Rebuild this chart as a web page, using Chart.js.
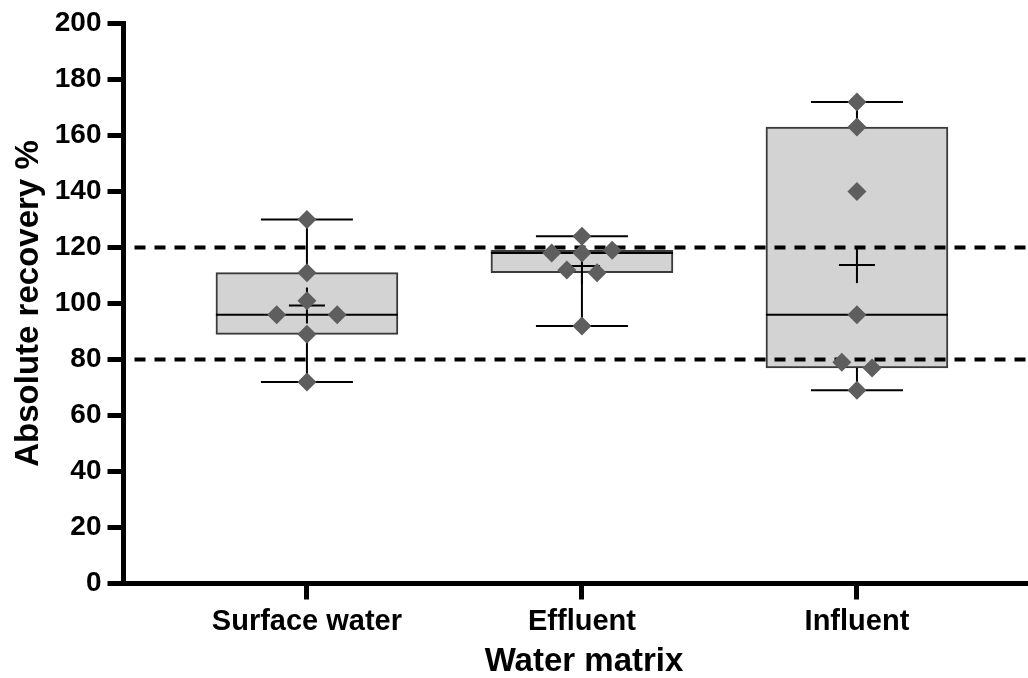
<!DOCTYPE html>
<html>
<head>
<meta charset="utf-8">
<title>Absolute recovery by water matrix</title>
<script src="https://cdn.jsdelivr.net/npm/chart.js@4.4.1/dist/chart.umd.min.js"></script>
<style>
  html, body { margin: 0; padding: 0; background: #fff; }
  #wrap { width: 1028px; height: 678px; position: relative; }
</style>
</head>
<body>
<div id="wrap"><canvas id="recoveryChart"></canvas></div>
<script>
  // values (absolute recovery %, n = 7 per matrix)
  const matrices = ["Surface water", "Effluent", "Influent"];
  const surfaceWater = [130, 111, 101, 96, 96, 89, 72];
  const effluent = [124, 119, 118, 118, 112, 111, 92];
  const influent = [172, 163, 140, 96, 79, 77, 69];
  const acceptLimits = [80, 120];
  const yTicks = { min: 0, max: 200, step: 20 };

  const groups = [surfaceWater, effluent, influent];

  // layout constants
  const BOX_PX = 182;        // box width
  const CAP_PX = 46;         // half width of whisker caps
  const MEAN_PX = 18;        // half size of the mean cross
  const SLOT = 0.055;        // horizontal step of the scatter, in category units
  const NEAR = 5.4;          // values closer than this collide vertically

  // Prism style quantile, position (n + 1) * p
  function quantile(sorted, p) {
    const pos = (sorted.length + 1) * p;
    const lo = Math.max(1, Math.min(sorted.length, Math.floor(pos)));
    const hi = Math.max(1, Math.min(sorted.length, Math.ceil(pos)));
    return sorted[lo - 1] + (pos - Math.floor(pos)) * (sorted[hi - 1] - sorted[lo - 1]);
  }

  function summary(values) {
    const s = values.slice().sort((a, b) => a - b);
    const mean = s.reduce((a, b) => a + b, 0) / s.length;
    return { min: s[0], q1: quantile(s, 0.25), median: quantile(s, 0.5), q3: quantile(s, 0.75), max: s[s.length - 1], mean };
  }

  // column scatter: points that would overlap are pushed sideways, then each cluster is centred
  function spread(values) {
    const order = values.map((_, i) => i).sort((a, b) => values[b] - values[a]);
    const slot = new Array(values.length).fill(0);
    const placed = [];
    const tries = [0, 1, -1, 2, -2, 3, -3, 4, -4, 5, -5];
    order.forEach(i => {
      for (const s of tries) {
        const hit = placed.some(j => Math.abs(values[j] - values[i]) < NEAR && Math.abs(slot[j] - s) < 2);
        if (!hit) { slot[i] = s; break; }
      }
      placed.push(i);
    });
    let cluster = [];
    const flush = () => {
      if (!cluster.length) return;
      const lo = Math.min(...cluster.map(i => slot[i]));
      const hi = Math.max(...cluster.map(i => slot[i]));
      const shift = -(lo + hi) / 2;
      cluster.forEach(i => { slot[i] += shift; });
      cluster = [];
    };
    order.forEach((i, k) => {
      if (k > 0 && values[order[k - 1]] - values[i] >= NEAR) flush();
      cluster.push(i);
    });
    flush();
    return slot;
  }

  const stats = groups.map(summary);

  const boxData = stats.map((s, i) => ({ x: i + 1, y: [s.q1, s.q3] }));
  const pointData = [];
  groups.forEach((vals, g) => {
    const slots = spread(vals);
    vals.forEach((v, k) => pointData.push({ x: g + 1 + slots[k] * SLOT, y: v }));
  });

  const boxPlotExtras = {
    id: "boxPlotExtras",
    beforeDatasetDraw(chart, args) {
      if (args.index !== 1) return;
      const { ctx, chartArea } = chart;
      const x = chart.scales.x, y = chart.scales.y;
      ctx.save();

      // dashed acceptance limits
      ctx.strokeStyle = "#000";
      ctx.lineWidth = 4;
      ctx.setLineDash([11, 9]);
      acceptLimits.forEach(v => {
        const py = y.getPixelForValue(v);
        ctx.beginPath();
        ctx.moveTo(chartArea.left + 11, py);
        ctx.lineTo(chartArea.right, py);
        ctx.stroke();
      });
      ctx.setLineDash([]);

      ctx.lineWidth = 2;
      const seg = (x1, y1, x2, y2) => {
        ctx.beginPath();
        ctx.moveTo(x1, y1);
        ctx.lineTo(x2, y2);
        ctx.stroke();
      };
      stats.forEach((s, i) => {
        const cx = x.getPixelForValue(i + 1);
        const yMin = y.getPixelForValue(s.min), yMax = y.getPixelForValue(s.max);
        const yQ1 = y.getPixelForValue(s.q1), yQ3 = y.getPixelForValue(s.q3);
        const yMed = y.getPixelForValue(s.median), yMean = y.getPixelForValue(s.mean);
        // whiskers + caps
        seg(cx, yMax, cx, yQ3);
        seg(cx, yQ1, cx, yMin);
        seg(cx - CAP_PX, yMax, cx + CAP_PX, yMax);
        seg(cx - CAP_PX, yMin, cx + CAP_PX, yMin);
        // median
        seg(cx - BOX_PX / 2, yMed, cx + BOX_PX / 2, yMed);
        // mean cross
        seg(cx - MEAN_PX, yMean, cx + MEAN_PX, yMean);
        seg(cx, yMean - MEAN_PX, cx, yMean + MEAN_PX);
      });
      ctx.restore();
    }
  };

  Chart.defaults.font.family = "'Liberation Sans', Arial, sans-serif";
  Chart.defaults.color = "#000";

  new Chart(document.getElementById("recoveryChart"), {
    type: "bar",
    data: {
      datasets: [
        {
          type: "bar",
          order: 2,
          data: boxData,
          backgroundColor: "#d3d3d3",
          borderColor: "#3a3a3a",
          borderWidth: 2,
          borderSkipped: false,
          barThickness: BOX_PX,
          grouped: false
        },
        {
          type: "scatter",
          order: 1,
          data: pointData,
          pointStyle: "rectRot",
          pointRadius: 9.5,
          backgroundColor: "#5e5e5e",
          borderWidth: 0
        }
      ]
    },
    options: {
      responsive: true,
      maintainAspectRatio: false,
      animation: false,
      layout: { autoPadding: false, padding: { top: 23.5, right: 0, bottom: 0, left: 0 } },
      plugins: { legend: { display: false }, tooltip: { enabled: false } },
      scales: {
        x: {
          type: "linear",
          min: 0.333,
          max: 3.622,
          offset: false,
          afterBuildTicks: scale => { scale.ticks = matrices.map((_, i) => ({ value: i + 1 })); },
          afterFit: scale => { scale.height = 94.5; },
          ticks: {
            autoSkip: false,
            maxRotation: 0,
            padding: 5,
            font: { size: 29, weight: "bold" },
            callback: v => matrices[v - 1]
          },
          grid: { offset: false, drawOnChartArea: false, tickLength: 16, tickWidth: 5, tickColor: "#000" },
          border: { color: "#000", width: 5 },
          title: {
            display: true,
            text: "\u2002Water matrix",
            font: { size: 33, weight: "bold", lineHeight: 1 },
            padding: { top: 0, bottom: 0 }
          }
        },
        y: {
          min: yTicks.min,
          max: yTicks.max,
          afterFit: scale => { scale.width = 123.5; },
          ticks: {
            stepSize: yTicks.step,
            padding: 6,
            font: { size: 28, weight: "bold" }
          },
          grid: { drawOnChartArea: false, tickLength: 16, tickWidth: 5, tickColor: "#000" },
          border: { color: "#000", width: 5 },
          title: {
            display: true,
            text: "Absolute recovery %",
            font: { size: 33, weight: "bold", lineHeight: 1 },
            padding: { top: 12, bottom: 0 }
          }
        }
      }
    },
    plugins: [boxPlotExtras]
  });
</script>
</body>
</html>
